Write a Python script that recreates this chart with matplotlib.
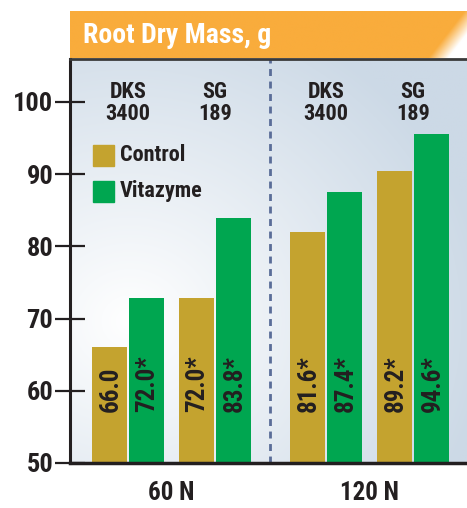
import numpy as np
import matplotlib
matplotlib.use('Agg')
import matplotlib.pyplot as plt
from matplotlib import font_manager

# data
nitrogen = ['60 N', '120 N']
hybrids = ['DKS\n3400', 'SG\n189']
treatments = ['Control', 'Vitazyme']
# bar heights as drawn (group, hybrid, treatment)
heights = [[[66.0, 72.9], [72.9, 83.9]],
           [[82.0, 87.5], [90.4, 95.6]]]
value_labels = [[['66.0', '72.0*'], ['72.0*', '83.8*']],
                [['81.6*', '87.4*'], ['89.2*', '94.6*']]]
yticks = [50, 60, 70, 80, 90, 100]

colors = ['#c4a32f', '#00a650']
dark = '#231f20'

names = {f.name for f in font_manager.fontManager.ttflist}
fam = 'DejaVu Sans'
for cand in ['Liberation Sans Narrow', 'DejaVu Sans Condensed', 'Roboto Condensed', 'Open Sans Condensed']:
    if cand in names:
        fam = cand
        break
plt.rcParams['font.family'] = [fam, 'DejaVu Sans']
plt.rcParams['font.weight'] = 'bold'

W, H = 467, 508
fig = plt.figure(figsize=(W / 100, H / 100), dpi=100)

# header band
hx0, hy0, hy1 = 70, 11, 58
hax = fig.add_axes([hx0 / W, 1 - hy1 / H, 1 - hx0 / W, (hy1 - hy0) / H])
hax.set_axis_off()
nx, ny = 400, 50
gx, gy = np.meshgrid(np.linspace(0, 1, nx), np.linspace(0, 1, ny))
orange = np.array([249, 172, 60]) / 255
edge = 0.905 + 0.09 * gy  # diagonal fade at the right end
t = np.clip((gx - edge) / 0.05, 0, 1)[..., None]
img = orange * (1 - t) + np.ones(3) * t
hax.imshow(img, extent=[0, 1, 0, 1], aspect='auto', origin='lower')
hax.set_xlim(0, 1)
hax.set_ylim(0, 1)
hax.text(0.033, 0.47, 'Root Dry Mass, g', color='white', fontsize=20,
         fontweight='bold', va='center', ha='left')

# main axes
ax = fig.add_axes([hx0 / W, 1 - 463 / H, 1 - hx0 / W, (463 - 59) / H])
xmax = W - hx0
ax.set_xlim(0, xmax)
ymin, ymax = 50, 50 + (463 - 59) / 7.22
ax.set_ylim(ymin, ymax)

# background gradient
bx, by = np.meshgrid(np.linspace(0, 1, 300), np.linspace(0, 1, 300))
d = np.sqrt(((bx - 0.15) / 1.0) ** 2 + ((by - 0.35) / 0.9) ** 2)
w = np.clip(1 - 1.1 * d, 0, 1)[..., None]
blue = np.array([204, 217, 230]) / 255
bg = blue * (1 - w) + np.ones(3) * w
ax.imshow(bg, extent=[0, xmax, ymin, ymax], aspect='auto', origin='lower', zorder=0)

bw = 35
for g in range(2):
    for h in range(2):
        for k in range(2):
            x = 39.5 + g * 198 + h * 87 + k * 37
            ax.bar(x, heights[g][h][k] - ymin, bottom=ymin, width=bw,
                   color=colors[k], zorder=2)
            ax.text(x + 1, 57.1, value_labels[g][h][k], rotation=90,
                    ha='center', va='bottom', fontsize=18, color=dark, zorder=3)
        hx = 39.5 + g * 198 + h * 87 + 18.5
        ax.text(hx, 102.9, hybrids[h], ha='center', va='top', fontsize=16,
                color=dark, linespacing=1.0, zorder=3)
    ax.text(39.5 + g * 198 + 61.5, ymin - 4.2, nitrogen[g], ha='center',
            va='center', fontsize=18, color=dark)

ax.axvline(200, color='#5a6d98', lw=2, ls=(0, (2.5, 2)), zorder=1)

# legend
for k in range(2):
    ly = 92.6 - k * 5.0
    ax.add_patch(plt.Rectangle((23, ly - 1.45), 21, 2.9, color=colors[k], zorder=3))
    ax.text(50, ly + 0.05, treatments[k], va='center', ha='left', fontsize=16,
            color=dark, zorder=3)

ax.set_yticks(yticks)
ax.set_xticks([])
ax.tick_params(axis='y', direction='inout', length=22, width=1.6, color=dark,
               labelsize=19, labelcolor=dark, pad=1)
for lab in ax.get_yticklabels():
    lab.set_fontweight('bold')
ax.spines['right'].set_visible(False)
ax.spines['left'].set_linewidth(2.2)
ax.spines['left'].set_color(dark)
ax.spines['bottom'].set_linewidth(2.5)
ax.spines['bottom'].set_color(dark)
ax.spines['top'].set_linewidth(2)
ax.spines['top'].set_color('#3a3a3a')

fig.savefig('out.png', dpi=100)
